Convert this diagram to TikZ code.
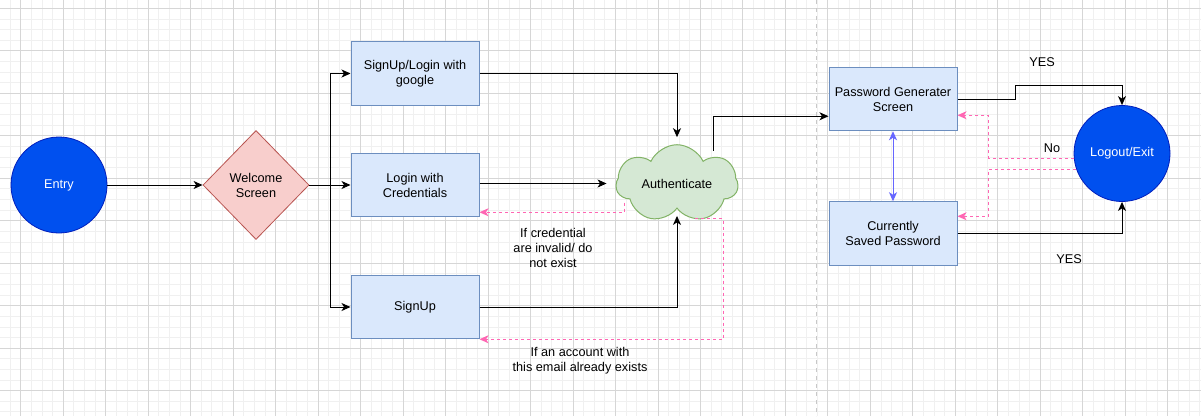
\documentclass[tikz,border=0pt]{standalone}
\usepackage{fontspec}
\setmainfont{Liberation Sans}
\usetikzlibrary{arrows.meta,shapes.geometric,shapes.symbols,calc}
\definecolor{boxfill}{HTML}{DAE8FC}
\definecolor{boxline}{HTML}{6C8EBF}
\definecolor{diafill}{HTML}{F8CECC}
\definecolor{dialine}{HTML}{B85450}
\definecolor{cloudfill}{HTML}{D5E8D4}
\definecolor{cloudline}{HTML}{82B366}
\definecolor{circfill}{HTML}{0050EF}
\definecolor{circline}{HTML}{001DBC}
\definecolor{pinkline}{HTML}{FF66B3}
\definecolor{dblblue}{HTML}{6666FF}
\definecolor{gridminor}{HTML}{F0F0F0}
\definecolor{gridmajor}{HTML}{D6D6D6}
\definecolor{sepgray}{HTML}{C8C8C8}
\tikzset{
  minorgrid/.style={draw=gridminor, line width=0.8pt},
  majorgrid/.style={draw=gridmajor, line width=0.8pt},
  circnode/.style={circle, draw=circline, fill=circfill, text=white, minimum size=96pt, inner sep=0pt, line width=0.8pt},
  boxnode/.style={rectangle, draw=boxline, fill=boxfill, minimum width=128pt, minimum height=63.5pt, align=center, inner sep=0pt, line width=1pt},
  dianode/.style={diamond, draw=dialine, fill=diafill, minimum width=106pt, minimum height=109pt, align=center, inner sep=0pt, line width=0.8pt},
  cloudnode/.style={cloud, cloud puffs=7, cloud puff arc=130, aspect=1.8, draw=cloudline, fill=cloudfill, minimum width=122pt, minimum height=68pt, inner sep=0pt, line width=1pt},
  lbl/.style={align=center, inner sep=0pt},
  arr/.style={draw=black, line width=1pt, -{Stealth[length=9pt,width=8pt,inset=2.5pt]}},
  pinkarr/.style={draw=pinkline, line width=1pt, dash pattern=on 3pt off 3pt, -{Stealth[length=9pt,width=8pt,inset=2.5pt]}},
  dblarr/.style={draw=dblblue, line width=1pt, {Stealth[length=9pt,width=8pt,inset=2.5pt]}-{Stealth[length=9pt,width=8pt,inset=2.5pt]}},
}
\begin{document}
\begin{tikzpicture}[x=1pt, y=-1pt, font=\fontsize{12.7}{15}\selectfont]
\useasboundingbox (0,0) rectangle (1201,416);
\fill[white] (0,0) rectangle (1201,416);
\begin{scope}
\clip (0,0) rectangle (1201,416);
\foreach \k in {-2,...,112} { \draw[minorgrid] ({20.7+\k*10.62},0) -- ++(0,416); }
\foreach \k in {-1,...,39} { \draw[minorgrid] (0,{8.3+\k*10.62}) -- ++(1201,0); }
\foreach \k in {0,...,27} { \draw[majorgrid] ({20.7+\k*42.48},0) -- ++(0,416); }
\foreach \k in {0,...,9} { \draw[majorgrid] (0,{8.3+\k*42.48}) -- ++(1201,0); }
\end{scope}
% separator
\draw[sepgray, line width=1pt, dash pattern=on 4pt off 4pt] (816,0) -- (816,416);

% nodes
\node[circnode] (entry) at (59,185) {Entry};
\node[dianode] (welcome) at (256,185) {Welcome\\Screen};
\node[boxnode] (gl) at (415,73.5) {SignUp/Login with\\google};
\node[boxnode] (cred) at (415,185) {Login with\\Credentials};
\node[boxnode] (signup) at (415,307) {SignUp};
\node[cloudnode] (auth) at (677,183.5) {Authenticate};
\node[boxnode] (pg) at (893,99) {Password Generater\\Screen};
\node[boxnode] (csp) at (893,233.5) {Currently\\Saved Password};
\node[circnode] (logout) at (1122,153.5) {Logout/Exit};

\coordinate (split) at (330,185);

% connectors
\draw[arr] (entry) -- (welcome);
\draw[line width=1pt] (welcome.east) -- (split);
\draw[arr] (split) |- (gl.west);
\draw[arr] (split) -- (cred.west);
\draw[arr] (split) |- (signup.west);
\draw[arr] (gl.east) -| ([yshift=7pt]auth.north);
\draw[arr] (cred.east |- auth.west) -- ([xshift=-9pt]auth.west);
\draw[arr] (signup.east) -| ([yshift=-7pt]auth.south);
\draw[pinkarr] ($(auth.center)+(-53,19)$) |- ([yshift=5pt]cred.south east);
\draw[pinkarr] ($(auth.center)+(18,35)$) -- ++(28,0) |- (signup.south east);
\draw[arr] ($(auth.center)+(36,-33)$) |- ([yshift=15pt]pg.south west);
\draw[arr] (pg.east) -- ++(58,0) -- ++(0,-14) -| (logout.north);
\draw[arr] (csp.east) -| (logout.south);
\draw[dblarr] (pg.south) -- (csp.north);
\draw[pinkarr] ([yshift=-4.5pt]logout.west) -- ++(-85,0) |- ([yshift=16pt]pg.south east);
\draw[pinkarr] ([yshift=-15.5pt,xshift=2pt]logout.west) -- ++(-87,0) |- ([yshift=-15pt]csp.north east);

% labels
\node[lbl] (l1) at (553,248) {If credential\\are invalid/ do\\not exist};
\node[lbl] (l2) at (580,360.5) {If an account with\\this email already exists};
\node[lbl] (yes1) at (1042,62) {YES};
\node[lbl] (yes2) at (1069,259) {YES};
\node[lbl] (no) at (1052,148) {No};
\end{tikzpicture}
\end{document}
